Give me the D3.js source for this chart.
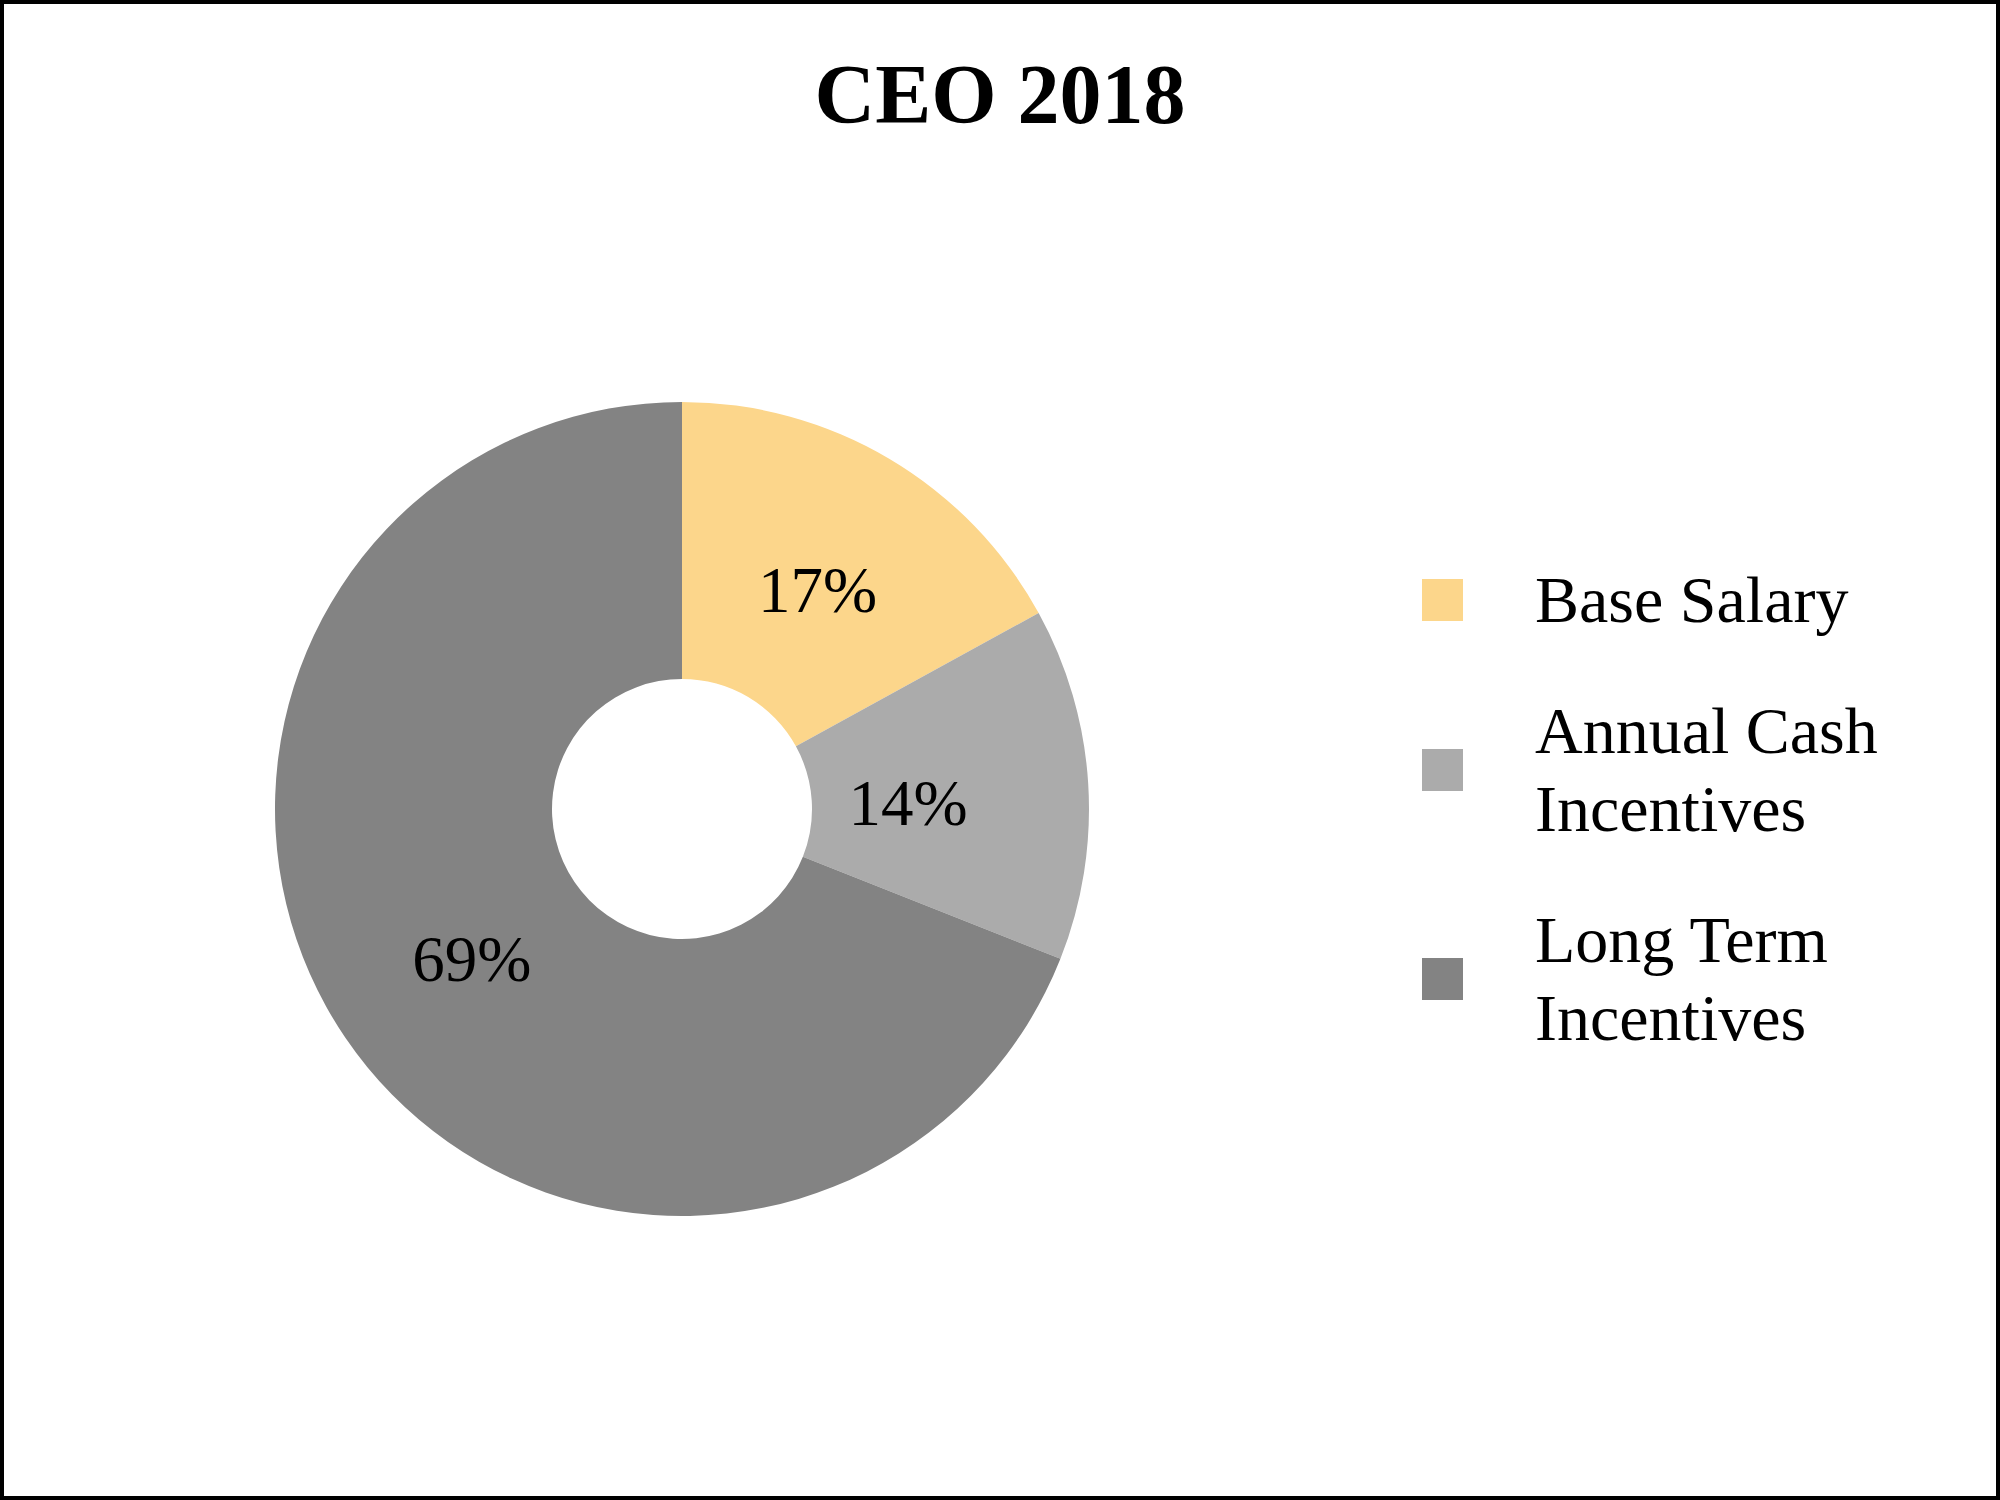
<!DOCTYPE html>
<html>
<head>
<meta charset="utf-8">
<script src="https://cdn.jsdelivr.net/npm/d3@7"></script>
<style>
  html, body { margin: 0; padding: 0; background: #fff; }
  svg { display: block; }
</style>
</head>
<body>
<svg id="chart" width="2000" height="1500"></svg>
<script>
// ---- data ----
const title = "CEO 2018";
const categories = ["Base Salary", "Annual Cash Incentives", "Long Term Incentives"];
const legendLines = [["Base Salary"], ["Annual Cash", "Incentives"], ["Long Term", "Incentives"]];
const values = [17, 14, 69];
const colors = ["#FCD68B", "#ABABAB", "#838383"];

// ---- layout ----
const W = 2000, H = 1500;
const font = "'Liberation Serif', 'Times New Roman', Times, serif";
const svg = d3.select("#chart");

svg.append("rect").attr("x", 0).attr("y", 0).attr("width", W).attr("height", H).attr("fill", "#fff");
svg.append("rect").attr("x", 2).attr("y", 2).attr("width", W - 4).attr("height", H - 4)
  .attr("fill", "none").attr("stroke", "#000").attr("stroke-width", 4);

svg.append("text")
  .attr("x", 1000).attr("y", 123)
  .attr("text-anchor", "middle")
  .attr("font-family", font).attr("font-weight", "bold").attr("font-size", 84)
  .attr("fill", "#000")
  .text(title);

const cx = 682, cy = 809, rOuter = 407, rInner = 130;
const pie = d3.pie().sort(null).value(d => d)(values);
const arc = d3.arc().innerRadius(rInner).outerRadius(rOuter);

const g = svg.append("g").attr("transform", `translate(${cx},${cy})`);
g.selectAll("path").data(pie).join("path")
  .attr("d", arc)
  .attr("fill", (d, i) => colors[i]);

// label nudges relative to arc centroid (mimicking the original label placement)
const nudge = [[-1, 13], [-42, 12], [12, 0]];
g.selectAll("text.lbl").data(pie).join("text")
  .attr("class", "lbl")
  .attr("x", (d, i) => arc.centroid(d)[0] + nudge[i][0])
  .attr("y", (d, i) => arc.centroid(d)[1] + 21 + nudge[i][1])
  .attr("text-anchor", "middle")
  .attr("font-family", font).attr("font-size", 65)
  .attr("fill", "#000")
  .text(d => d.data + "%");

// ---- legend ----
const legX = 1422, textX = 1535, sq = 42, lineH = 78, gap = 53;
let y = 561; // top of first legend item
const leg = svg.append("g");
legendLines.forEach((lines, i) => {
  const h = lines.length * lineH;
  const mid = y + h / 2;
  leg.append("rect")
    .attr("x", legX).attr("y", mid - sq / 2)
    .attr("width", 41).attr("height", sq)
    .attr("fill", colors[i]);
  const t = leg.append("text")
    .attr("font-family", font).attr("font-size", 66).attr("fill", "#000");
  lines.forEach((ln, j) => {
    t.append("tspan")
      .attr("x", textX)
      .attr("y", mid - h / 2 + j * lineH + lineH / 2 + 22)
      .text(ln);
  });
  y += h + gap;
});
</script>
</body>
</html>
